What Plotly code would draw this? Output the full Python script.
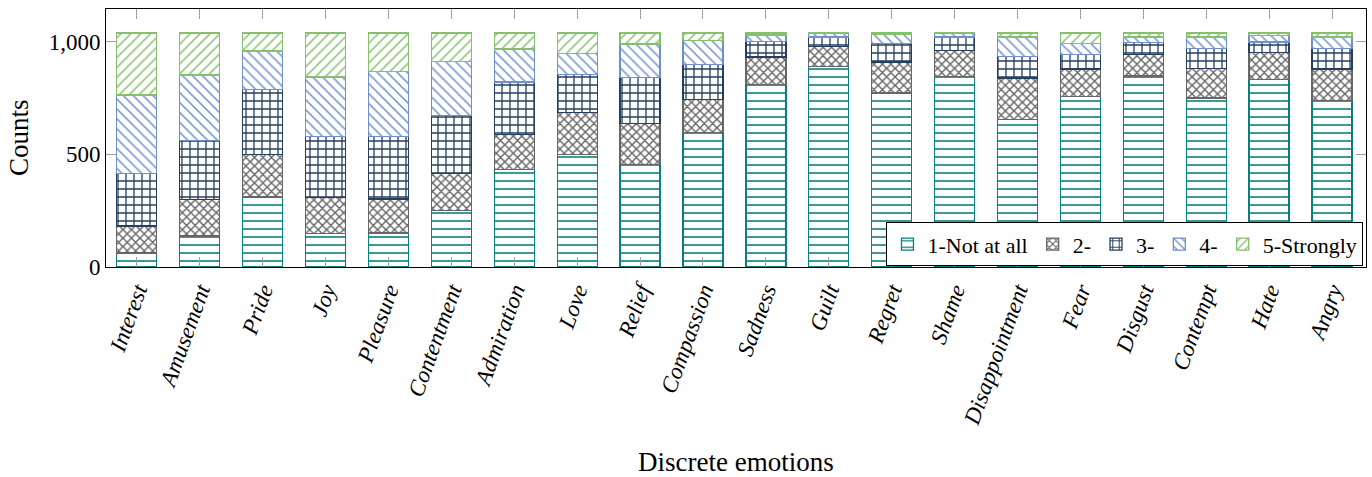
import plotly.graph_objects as go

emotions = ["Interest", "Amusement", "Pride", "Joy", "Pleasure", "Contentment",
            "Admiration", "Love", "Relief", "Compassion", "Sadness", "Guilt",
            "Regret", "Shame", "Disappointment", "Fear", "Disgust", "Contempt",
            "Hate", "Angry"]

level1 = [62, 138, 311, 148, 151, 252, 433, 500, 456, 599, 812, 892, 773, 846, 655, 756, 849, 751, 834, 740]
level2 = [120, 162, 190, 160, 151, 163, 155, 186, 181, 146, 121, 89, 138, 117, 184, 123, 95, 130, 119, 139]
level3 = [233, 263, 287, 273, 279, 258, 234, 170, 206, 153, 69, 40, 83, 59, 97, 66, 52, 90, 46, 92]
level4 = [349, 290, 172, 263, 287, 240, 147, 92, 147, 109, 29, 15, 39, 14, 85, 48, 26, 50, 28, 51]
level5 = [276, 187, 80, 196, 172, 127, 71, 92, 50, 33, 9, 4, 7, 4, 19, 47, 18, 19, 13, 18]

series_names = ["1-Not at all", "2-", "3-", "4-", "5-Strongly"]
series_values = [level1, level2, level3, level4, level5]
colors = ["#0a7f7f", "#666666", "#24405e", "#6f8fd0", "#86c06c"]
shapes = ["-", "x", "+", "\\", "/"]
sizes = [8, 6, 8, 7, 7]
solid = [0.2, 0.42, 0.3, 0.22, 0.22]

y_ticks = [0, 500, 1000]

fig = go.Figure()
for name, vals, col, shp, sz, so in zip(series_names, series_values, colors, shapes, sizes, solid):
    fig.add_trace(go.Bar(
        x=emotions, y=vals, name=name,
        marker=dict(
            color="white",
            line=dict(color=col, width=1.3),
            pattern=dict(shape=shp, fgcolor=col, bgcolor="white", size=sz,
                         solidity=so, fgopacity=1),
        ),
    ))

serif = "Liberation Serif"
fig.update_layout(
    width=1372, height=477,
    barmode="stack", bargap=0.364,
    plot_bgcolor="white", paper_bgcolor="white",
    margin=dict(l=106, r=6, t=9, b=210),
    font=dict(family=serif, color="black"),
    showlegend=True,
    legend=dict(
        orientation="h", x=0.998, y=0.003, xanchor="right", yanchor="bottom",
        bordercolor="black", borderwidth=1, bgcolor="white",
        font=dict(family=serif, size=22, color="black"),
        itemwidth=30, tracegroupgap=0, traceorder="normal",
    ),
)
fig.update_xaxes(
    type="category", range=[-0.49, 19.54],
    showline=True, linecolor="black", linewidth=1, mirror="allticks",
    ticks="inside", ticklen=10, tickcolor="#a0a0a0", tickwidth=1,
    tickangle=-70, tickfont=dict(family=serif, size=23, style="italic", color="black"),
    showgrid=False, automargin=False,
)
fig.update_yaxes(
    range=[0, 1146], tickvals=y_ticks, tickformat=",",
    showline=True, linecolor="black", linewidth=1, mirror="allticks",
    ticks="inside", ticklen=10, tickcolor="#a0a0a0", tickwidth=1,
    tickfont=dict(family=serif, size=23, color="black"),
    showgrid=False, zeroline=False, automargin=False,
)
fig.add_annotation(text="Counts", xref="paper", yref="paper", x=-0.069, y=0.5,
                   textangle=-90, showarrow=False, font=dict(family=serif, size=27),
                   xanchor="center", yanchor="middle")
fig.add_annotation(text="Discrete emotions", xref="paper", yref="paper", x=0.5, y=-0.756,
                   showarrow=False, font=dict(family=serif, size=27),
                   xanchor="center", yanchor="middle")

fig.write_html("out.html", config={"displayModeBar": False},
               post_script="document.body.style.margin='0';document.body.style.padding='0';")
